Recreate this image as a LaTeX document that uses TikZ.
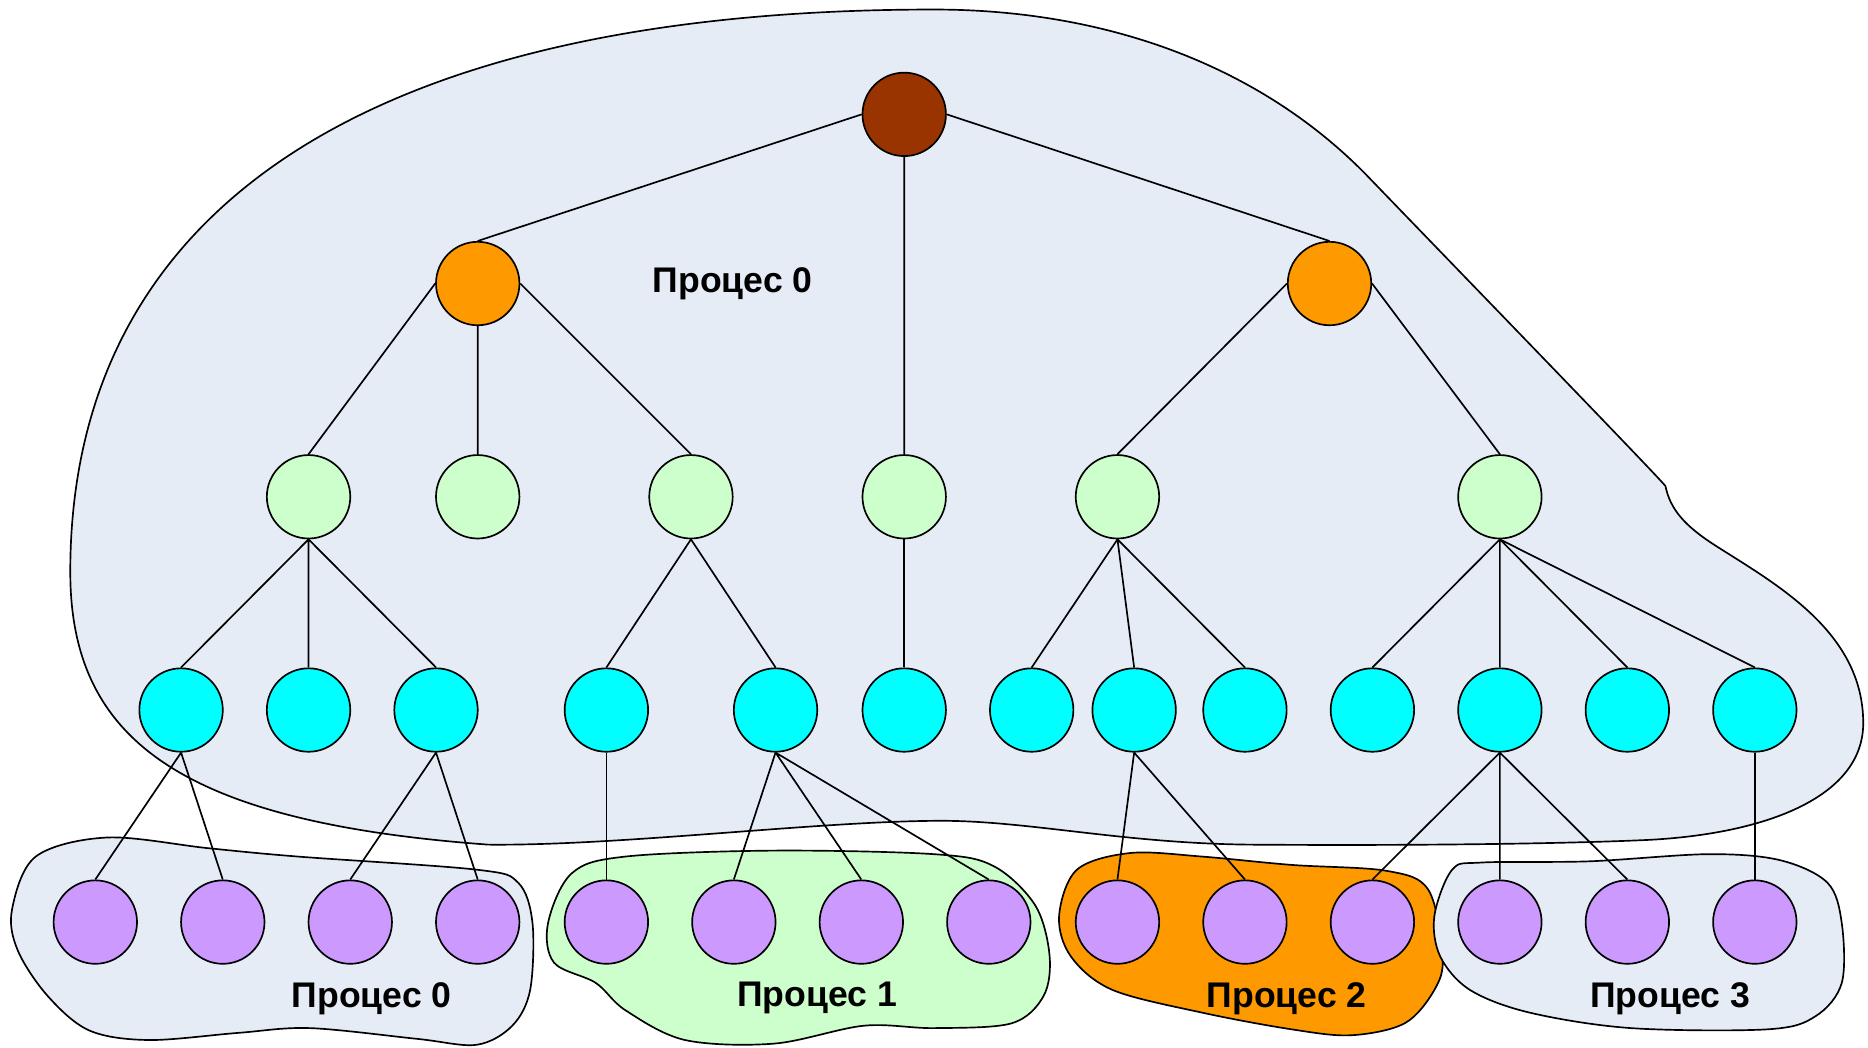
\documentclass[tikz,border=0pt]{standalone}
\usepackage{fontspec}
\setmainfont{Liberation Sans}
\definecolor{rootred}{RGB}{153,51,0}
\definecolor{procorange}{RGB}{255,153,0}
\definecolor{palegreen}{RGB}{204,255,204}
\definecolor{brightcyan}{RGB}{0,255,255}
\definecolor{lilac}{RGB}{204,153,255}
\definecolor{blobblue}{RGB}{230,236,246}
\begin{document}
\begin{tikzpicture}[x=0.01cm, y=-0.01cm, line width=0.4pt,
        vertex/.style={circle, draw, minimum size=0.7cm, inner sep=0pt},
        rootv/.style={vertex, fill=rootred},
        orangev/.style={vertex, fill=procorange},
        greenv/.style={vertex, fill=palegreen},
        cyanv/.style={vertex, fill=brightcyan},
        purplev/.style={vertex, fill=lilac},
        blob/.style={draw, line join=round},
        proclabel/.style={font=\fontsize{8.5}{10}\selectfont\bfseries}]
        \useasboundingbox (0,0) rectangle (1568,879);

        % process regions
        \draw[blob, fill=blobblue] (784,8) .. controls (313,8) and (59,173) .. (59,480)
            .. controls (59,620) and (150,690) .. (410,709)
            .. controls (520,710) and (680,690) .. (784,689)
            .. controls (860,688) and (940,708) .. (1050,709)
            .. controls (1200,710) and (1320,708) .. (1384,705)
            .. controls (1480,700) and (1564,670) .. (1564,607)
            .. controls (1564,530) and (1490,490) .. (1440,458)
            .. controls (1415,442) and (1402,428) .. (1398,408)
            .. controls (1390,398) and (1200,202) .. (1150,150)
            .. controls (1060,56) and (930,8) .. cycle;
        \draw[blob, fill=blobblue] plot[smooth cycle, tension=0.55] coordinates {(10,764) (30,719) (90,703) (175,712) (250,719) (400,730) (435,741) (447,775) (445,831) (430,861) (400,877) (350,872) (260,863) (200,867) (125,873) (75,865) (40,836) (15,798)};
        \draw[blob, fill=palegreen] plot[smooth cycle, tension=0.55] coordinates {(460,775) (480,733) (525,719) (650,714) (784,717) (834,727) (869,760) (881,802) (876,836) (849,859) (784,863) (725,861) (650,876) (575,873) (525,848) (500,825) (465,808)};
        \draw[blob, fill=procorange] plot[smooth cycle, tension=0.55] coordinates {(889,769) (904,730) (949,716) (1009,719) (1084,726) (1164,731) (1199,747) (1211,803) (1204,831) (1179,859) (1134,869) (1084,864) (1009,850) (934,831) (899,803)};
        \draw[blob, fill=blobblue] plot[smooth cycle, tension=0.55] coordinates {(1204,769) (1219,730) (1244,724) (1334,723) (1434,717) (1494,722) (1534,741) (1546,775) (1546,825) (1524,853) (1484,864) (1369,863) (1284,850) (1234,831) (1209,803)};

        \node[rootv] (r) at (759,96) {};

        \node[orangev] (o1) at (401,238) {};
        \node[orangev] (o2) at (1116,238) {};

        \node[greenv] (g1) at (259,417) {};
        \node[greenv] (g2) at (401,417) {};
        \node[greenv] (g3) at (580,417) {};
        \node[greenv] (g4) at (759,417) {};
        \node[greenv] (g5) at (938,417) {};
        \node[greenv] (g6) at (1259,417) {};

        \node[cyanv] (c1)  at (152,596)  {};
        \node[cyanv] (c2)  at (259,596)  {};
        \node[cyanv] (c3)  at (366,596)  {};
        \node[cyanv] (c4)  at (509,596)  {};
        \node[cyanv] (c5)  at (651,596)  {};
        \node[cyanv] (c6)  at (759,596)  {};
        \node[cyanv] (c7)  at (866,596)  {};
        \node[cyanv] (c8)  at (952,596)  {};
        \node[cyanv] (c9)  at (1045,596) {};
        \node[cyanv] (c10) at (1152,596) {};
        \node[cyanv] (c11) at (1259,596) {};
        \node[cyanv] (c12) at (1366,596) {};
        \node[cyanv] (c13) at (1473,596) {};

        \node[purplev] (p1)  at (80,774)   {};
        \node[purplev] (p2)  at (187,774)  {};
        \node[purplev] (p3)  at (294,774)  {};
        \node[purplev] (p4)  at (401,774)  {};
        \node[purplev] (p5)  at (509,774)  {};
        \node[purplev] (p6)  at (616,774)  {};
        \node[purplev] (p7)  at (723,774)  {};
        \node[purplev] (p8)  at (830,774)  {};
        \node[purplev] (p9)  at (938,774)  {};
        \node[purplev] (p10) at (1045,774) {};
        \node[purplev] (p11) at (1152,774) {};
        \node[purplev] (p12) at (1259,774) {};
        \node[purplev] (p13) at (1366,774) {};
        \node[purplev] (p14) at (1473,774) {};

        \draw (r.west)--(o1.north) (r.south)--(g4.north) (r.east)--(o2.north);
        \draw (o1.west)--(g1.north) (o1.south)--(g2.north) (o1.east)--(g3.north);
        \draw (o2.west)--(g5.north) (o2.east)--(g6.north);

        \draw (g1.south)--(c1.north) (g1.south)--(c2.north) (g1.south)--(c3.north);
        \draw (g3.south)--(c4.north) (g3.south)--(c5.north);
        \draw (g4.south)--(c6.north);
        \draw (g5.south)--(c7.north) (g5.south)--(c8.north) (g5.south)--(c9.north);
        \draw (g6.south)--(c10.north) (g6.south)--(c11.north) (g6.south)--(c12.north) (g6.south)--(c13.north);

        \draw (c1.south)--(p1.north) (c1.south)--(p2.north);
        \draw (c3.south)--(p3.north) (c3.south)--(p4.north);
        \draw (c4.south)--(p5.north);
        \draw (c5.south)--(p6.north) (c5.south)--(p7.north) (c5.south)--(p8.north);
        \draw (c8.south)--(p9.north) (c8.south)--(p10.north);
        \draw (c11.south)--(p11.north) (c11.south)--(p12.north) (c11.south)--(p13.north);
        \draw (c13.south)--(p14.north);

        \node[proclabel] (t0) at (615,238) {Процес 0};
        \node[proclabel] (t1) at (312,838) {Процес 0};
        \node[proclabel] (t2) at (686,838) {Процес 1};
        \node[proclabel] (t3) at (1080,838) {Процес 2};
        \node[proclabel] (t4) at (1402,838) {Процес 3};
        \end{tikzpicture}
\end{document}
